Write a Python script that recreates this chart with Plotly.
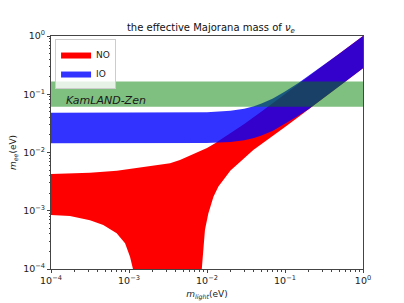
import plotly.graph_objects as go

# ---------------- data ----------------
# Normal ordering (NO) band: upper edge
no_upper_m = [1e-4, 3.16e-4, 7e-4, 1.52e-3, 3.36e-3, 4.5e-3, 7e-3, 8.1e-3, 1e-2,
              1.27e-2, 2e-2, 3e-2, 5e-2, 0.1, 0.2, 0.5, 1.0]
no_upper_ee = [4.27e-3, 4.5e-3, 4.87e-3, 5.57e-3, 6.52e-3, 7.4e-3, 9.5e-3, 1.03e-2, 1.19e-2,
               1.44e-2, 2.13e-2, 3.1e-2, 5.07e-2, 0.1004, 0.2, 0.5, 1.0]
# NO band: lower edge (1e-7 stands for "cancels to ~0", below the axis)
no_lower_m = [1e-4, 1.75e-4, 3.16e-4, 4.68e-4, 6.95e-4, 8.9e-4, 1.03e-3, 1.135e-3, 1.16e-3,
              8.5e-3, 8.55e-3, 8.97e-3, 9.42e-3, 1.04e-2, 1.21e-2, 1.4e-2, 1.62e-2, 2e-2,
              2.52e-2, 3.92e-2, 6.43e-2, 0.1, 0.15, 0.2, 0.3, 0.5, 1.0]
no_lower_ee = [8.45e-4, 8.1e-4, 6.9e-4, 5.7e-4, 4.1e-4, 2.76e-4, 1.63e-4, 9.5e-5, 1e-7,
               1e-7, 9.5e-5, 2.4e-4, 4.7e-4, 9.0e-4, 1.74e-3, 2.6e-3, 3.37e-3, 4.9e-3,
               6.5e-3, 1.1e-2, 1.8e-2, 2.75e-2, 4.1e-2, 5.35e-2, 8.2e-2, 0.138, 0.279]

# Inverted ordering (IO) band
io_m = [1e-4, 1e-3, 1e-2, 2e-2, 3e-2, 4e-2, 5e-2, 7e-2, 0.1, 0.15, 0.2, 0.3, 0.5, 1.0]
io_upper_ee = [0.048, 0.048, 0.049, 0.052, 0.0566, 0.0625, 0.0693, 0.0849, 0.111, 0.157,
               0.206, 0.304, 0.502, 1.0]
io_lower_ee = [0.0144, 0.0144, 0.0146, 0.0152, 0.0163, 0.0178, 0.0196, 0.0236, 0.031, 0.043,
               0.055, 0.082, 0.138, 0.279]

# KamLAND-Zen limit band
kz_m = [1e-4, 1.0]
kz_lower = 0.061
kz_upper = 0.165

tick_vals = [1e-4, 1e-3, 1e-2, 1e-1, 1.0]
tick_text = ["10<sup>\u22124</sup>", "10<sup>\u22123</sup>", "10<sup>\u22122</sup>",
             "10<sup>\u22121</sup>", "10<sup>0</sup>"]
minor_vals = [k * 10.0 ** e for e in range(-4, 0) for k in range(2, 10)]

FONT = "DejaVu Sans"
# the page body adds an 8px offset; figure size/margins compensate
W, H = 396, 295

fig = go.Figure()

fig.add_trace(go.Scatter(
    x=no_upper_m + no_lower_m[::-1],
    y=no_upper_ee + no_lower_ee[::-1],
    fill="toself", mode="lines", line=dict(width=0, color="#ff0000"),
    fillcolor="#ff0000", name="NO", hoverinfo="skip"))

fig.add_trace(go.Scatter(
    x=io_m + io_m[::-1],
    y=io_upper_ee + io_lower_ee[::-1],
    fill="toself", mode="lines", line=dict(width=0, color="rgba(0,0,255,0.8)"),
    fillcolor="rgba(0,0,255,0.8)", name="IO", hoverinfo="skip"))

fig.add_trace(go.Scatter(
    x=kz_m + kz_m[::-1],
    y=[kz_upper, kz_upper, kz_lower, kz_lower],
    fill="toself", mode="lines", line=dict(width=0, color="rgba(0,128,0,0.5)"),
    fillcolor="rgba(0,128,0,0.5)", showlegend=False, hoverinfo="skip"))

fig.add_annotation(
    text="<i>KamLAND-Zen</i>", xref="paper", x=0.042, yref="y", y=-1.1,
    xanchor="left", yanchor="middle", showarrow=False,
    font=dict(family=FONT, size=11, color="#1a1a1a"))

axis_common = dict(
    type="log", range=[-4, 0], tickvals=tick_vals, ticktext=tick_text,
    automargin=False,
    showgrid=False, zeroline=False, showline=True, linecolor="#444", linewidth=1,
    mirror=True, ticks="outside", ticklen=3, tickcolor="#444",
    tickfont=dict(family=FONT, size=9.5, color="#222"),
    minor=dict(tickvals=minor_vals, ticks="outside", ticklen=1.5, tickcolor="#444",
               showgrid=False),
)

fig.update_xaxes(**axis_common,
                 title=dict(text="<i>m</i><sub><i>light</i></sub>(eV)", standoff=5,
                            font=dict(family=FONT, size=9, color="#222")))
fig.update_yaxes(**axis_common,
                 title=dict(text="<i>m</i><sub><i>ee</i></sub>(eV)", standoff=6,
                            font=dict(family=FONT, size=9, color="#222")))

fig.update_layout(
    width=W, height=H,
    margin=dict(l=43, r=41, t=28, b=34, autoexpand=False),
    paper_bgcolor="white", plot_bgcolor="white",
    title=dict(text="the effective Majorana mass of <i>\u03bd</i><sub><i>e</i></sub>",
               x=0.5125, xanchor="center", yref="container", y=1 - 19 / H,
               yanchor="middle", font=dict(family=FONT, size=10, color="#111")),
    legend=dict(x=0.013, y=0.987, xanchor="left", yanchor="top",
                bordercolor="#cccccc", borderwidth=1, bgcolor="rgba(255,255,255,0.8)",
                font=dict(family=FONT, size=9, color="#222"),
                itemwidth=30, tracegroupgap=0),
    showlegend=True,
)

fig.write_html("out.html")
